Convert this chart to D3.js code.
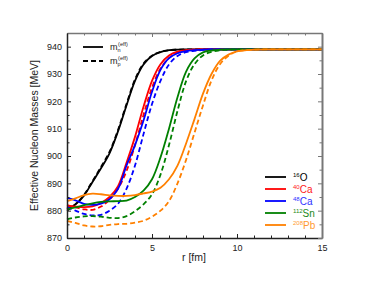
<!DOCTYPE html>
<html>
<head>
<meta charset="utf-8">
<script src="https://cdn.jsdelivr.net/npm/d3@7"></script>
<style>
  body { margin: 0; background: #fff; }
  text { font-family: "Liberation Sans", Arial, sans-serif; }
</style>
</head>
<body>
<div id="chart"></div>
<script>
// radius grid (fm)
var rVals = [0, 0.5, 1, 1.5, 2, 2.5, 3, 3.5, 4, 4.5, 5, 5.5, 6, 6.5, 7, 7.5, 8, 8.5, 9, 9.5, 10, 11, 12, 13, 14, 15];

// neutron effective masses (solid)
var o16N   = [880.5, 882.3, 885.5, 890.5, 895.5, 901, 909, 918.5, 927.5, 933.5, 936.6, 938, 938.7, 938.9, 939, 939, 939, 939, 939, 939, 939, 939, 939, 939, 939, 939];
var ca40N  = [881.8, 881.5, 881.3, 881.6, 882.8, 885, 889, 897.5, 907, 918, 927.5, 933.6, 936.8, 938.2, 938.7, 938.9, 939, 939, 939, 939, 939, 939, 939, 939, 939, 939];
var ca48N  = [884.7, 883.8, 882.5, 882.1, 882.6, 884.2, 888, 896.5, 904, 913, 923.5, 931.5, 935.8, 937.6, 938.4, 938.7, 938.9, 939, 939, 939, 939, 939, 939, 939, 939, 939];
var sn112N = [880.5, 881.2, 882, 882.7, 883.2, 883.4, 883.5, 883.7, 885, 887.3, 891.5, 899.5, 910, 921.5, 930.8, 935.7, 937.9, 938.6, 938.9, 939, 939, 939, 939, 939, 939, 939];
var pb208N = [883.5, 884.5, 885.7, 886.2, 886, 885.6, 885.4, 885.4, 885.7, 886.3, 887, 888.4, 891.5, 896.5, 904.5, 913.5, 922.8, 930, 934.8, 937.1, 938.3, 938.9, 939, 939, 939, 939];

// proton effective masses (dashed)
var o16P   = [880, 882.4, 885.8, 890.8, 896, 901.5, 909.5, 919, 928, 933.8, 936.7, 938.1, 938.7, 938.9, 939, 939, 939, 939, 939, 939, 939, 939, 939, 939, 939, 939];
var ca40P  = [882, 881.2, 880.5, 880.3, 881.5, 884, 888, 894.5, 904, 915, 925, 932, 935.8, 937.8, 938.6, 938.9, 939, 939, 939, 939, 939, 939, 939, 939, 939, 939];
var ca48P  = [881.3, 880, 878.8, 878.3, 878.5, 880, 882.5, 888, 896.5, 908, 919, 927.5, 933.5, 936.6, 938, 938.5, 938.8, 939, 939, 939, 939, 939, 939, 939, 939, 939];
var sn112P = [876.8, 877.5, 877.9, 878, 877.8, 877.4, 877.3, 878, 879.8, 882.3, 886, 893.2, 904, 916.5, 927.3, 933.6, 936.8, 938.1, 938.7, 938.9, 939, 939, 939, 939, 939, 939];
var pb208P = [876.3, 875.5, 874.6, 874.2, 874.3, 874.8, 875.1, 875.2, 875.6, 876.3, 877.8, 880, 883.5, 890, 898.5, 908.5, 918.5, 927.6, 933.6, 936.7, 938.2, 938.9, 939, 939, 939, 939];

var nuclei = [
  {mass: "16", sym: "O",  color: "#000000", n: o16N,   p: o16P},
  {mass: "40", sym: "Ca", color: "#ff0000", n: ca40N,  p: ca40P},
  {mass: "48", sym: "Ca", color: "#0000ff", n: ca48N,  p: ca48P},
  {mass: "112", sym: "Sn", color: "#008000", n: sn112N, p: sn112P},
  {mass: "208", sym: "Pb", color: "#ff8000", n: pb208N, p: pb208P}
];
var labelColors = ["#000000", "#ff2020", "#3030ff", "#1a8a1a", "#ff9a30"];

var xTicks = [0, 5, 10, 15];
var yTicks = [870, 880, 890, 900, 910, 920, 930, 940];

var width = 374, height = 286;
var margin = {top: 33, right: 52, bottom: 48, left: 67};

var svg = d3.select("#chart").append("svg")
  .attr("width", width)
  .attr("height", height);

var x = d3.scaleLinear().domain([0, 15]).range([margin.left, width - margin.right]);
var y = d3.scaleLinear().domain([870, 945]).range([height - margin.bottom, margin.top]);

// curves
var line = d3.line()
  .x(function(d){ return x(d[0]); })
  .y(function(d){ return y(d[1]); })
  .curve(d3.curveCatmullRom);

var plot = svg.append("g");
nuclei.forEach(function(nu){
  plot.append("path")
    .attr("d", line(rVals.map(function(r, i){ return [r, nu.n[i]]; })))
    .attr("fill", "none")
    .attr("stroke", nu.color)
    .attr("stroke-width", 1.8);
  plot.append("path")
    .attr("d", line(rVals.map(function(r, i){ return [r, nu.p[i]]; })))
    .attr("fill", "none")
    .attr("stroke", nu.color)
    .attr("stroke-width", 1.8)
    .attr("stroke-dasharray", "5,3");
});

// axes (ticks inward)
var x0 = margin.left, x1 = width - margin.right;
var y0 = height - margin.bottom, y1 = margin.top;

var axBottom = d3.axisBottom(x).tickValues(d3.range(0, 16, 1)).tickSizeInner(-3).tickSizeOuter(0)
  .tickFormat(function(d){ return xTicks.indexOf(d) >= 0 ? d : ""; });
var axTop = d3.axisTop(x).tickValues(d3.range(0, 16, 1)).tickSizeInner(-3).tickSizeOuter(0).tickFormat("");
var axLeft = d3.axisLeft(y).tickValues(d3.range(870, 945, 5)).tickSizeInner(-3).tickSizeOuter(0)
  .tickFormat(function(d){ return yTicks.indexOf(d) >= 0 ? d : ""; });
var axRight = d3.axisRight(y).tickValues(d3.range(870, 945, 5)).tickSizeInner(-3).tickSizeOuter(0).tickFormat("");

function styleAxis(g, col, w) {
  g.select(".domain").attr("stroke", col).attr("stroke-width", w);
  g.selectAll(".tick line").attr("stroke", col).attr("stroke-width", 1);
  g.selectAll(".tick text").attr("fill", "#222").style("font-size", "9px")
    .style("font-family", "'Liberation Sans', Arial, sans-serif");
}

var gb = svg.append("g").attr("transform", "translate(0," + y0 + ")").call(axBottom);
styleAxis(gb, "#222", 1.5);
gb.selectAll(".tick line").attr("y2", function(d){ return d % 5 === 0 ? -4 : -2.5; });
gb.selectAll(".tick text").attr("y", 7);

var gt = svg.append("g").attr("transform", "translate(0," + y1 + ")").call(axTop);
styleAxis(gt, "#777", 1.5);
gt.selectAll(".tick line").attr("y2", function(d){ return d % 5 === 0 ? 4 : 2.5; });

var gl = svg.append("g").attr("transform", "translate(" + x0 + ",0)").call(axLeft);
styleAxis(gl, "#222", 1.5);
gl.selectAll(".tick line").attr("x2", function(d){ return d % 10 === 0 ? 4 : 2.5; });
gl.selectAll(".tick text").attr("x", -5);

var gr = svg.append("g").attr("transform", "translate(" + x1 + ",0)").call(axRight);
styleAxis(gr, "#777", 2);
gr.selectAll(".tick line").attr("x2", function(d){ return d % 10 === 0 ? -4 : -2.5; });

// axis titles
svg.append("text")
  .attr("x", 194).attr("y", 261)
  .attr("text-anchor", "middle")
  .style("font-size", "10.5px").attr("fill", "#222")
  .text("r [fm]");
svg.append("text")
  .attr("transform", "translate(38," + ((y0 + y1) / 2) + ") rotate(-90)")
  .attr("text-anchor", "middle")
  .style("font-size", "10.5px").attr("fill", "#222")
  .text("Effective Nucleon Masses [MeV]");

// legend: neutron / proton
var legTop = svg.append("g");
[["n", null], ["p", "5,3"]].forEach(function(d, i){
  var ly = 47 + i * 14;
  legTop.append("line")
    .attr("x1", 83).attr("x2", 103).attr("y1", ly).attr("y2", ly)
    .attr("stroke", "#000").attr("stroke-width", 1.8)
    .attr("stroke-dasharray", d[1]);
  var t = legTop.append("text").attr("x", 110).attr("y", ly + 3).style("font-size", "9px").attr("fill", "#222");
  t.append("tspan").text("m");
  t.append("tspan").attr("dy", 2).style("font-size", "5.5px").text(d[0]);
  t.append("tspan").attr("dy", -6.5).attr("dx", -2.5).style("font-size", "5.5px").text("(eff)");
});

// legend: nuclei
var legBot = svg.append("g");
nuclei.forEach(function(nu, i){
  var ly = 177 + i * 12;
  legBot.append("line")
    .attr("x1", 265).attr("x2", 286).attr("y1", ly).attr("y2", ly)
    .attr("stroke", nu.color).attr("stroke-width", 1.8);
  var t = legBot.append("text").attr("x", 293).attr("y", ly + 4).style("font-size", "10px").attr("fill", labelColors[i]);
  t.append("tspan").attr("dy", -4).style("font-size", "6px").text(nu.mass);
  t.append("tspan").attr("dy", 4).text(nu.sym);
});
</script>
</body>
</html>
